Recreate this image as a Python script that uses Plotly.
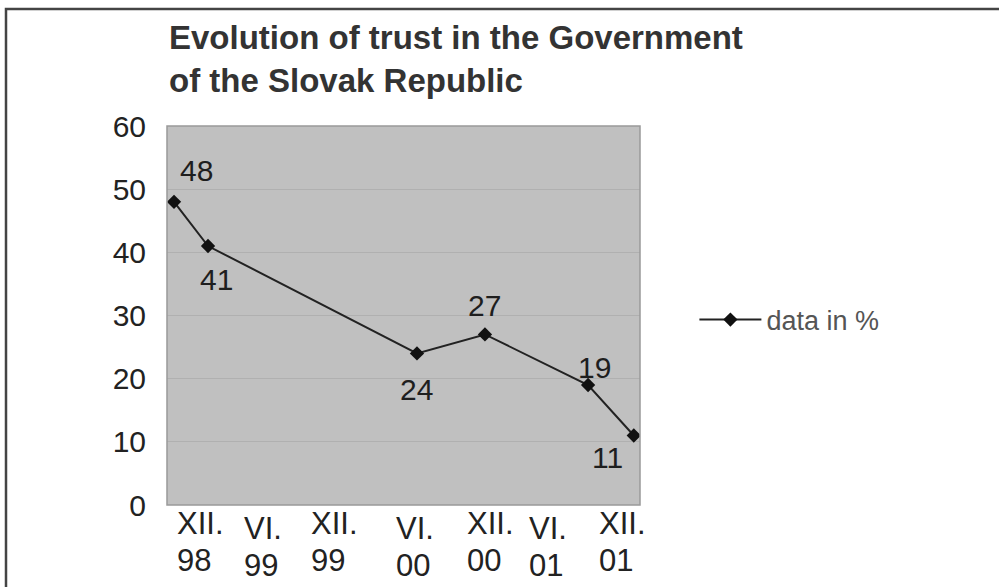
import plotly.graph_objects as go

# ---- data ----
# x positions in months relative to XII.98
point_x = [-2.13, 0.77, 18.6, 24.4, 33.2, 37.1]
trust_values = [48, 41, 24, 27, 19, 11]
series_name = "data in %"

# left edge of each x label, same month units as point_x
tick_positions = [-2.05, 3.66, 9.38, 16.63, 22.69, 27.98, 33.96]
tick_month = ["XII.", "VI.", "XII.", "VI.", "XII.", "VI.", "XII."]
tick_year = ["98", "99", "99", "00", "00", "01", "01"]
y_ticks = [0, 10, 20, 30, 40, 50, 60]

title_text = "Evolution of trust in the Government<br>of the Slovak Republic"

# label offsets (px) for data labels
label_dx = [22, 8, 0, 0, 6, -26]
label_dy = [31, -33, -36, 29, 17, -22]
# vertical offsets (px) of the x tick labels (the VI. labels sit a bit lower)
tick_label_dy = [0, -5, 0, -5, 0, -5, 0]

FONT = "Liberation Sans, Arial, Helvetica, sans-serif"

fig = go.Figure()
fig.add_trace(go.Scatter(
    x=point_x, y=trust_values, mode="lines+markers", name=series_name,
    line=dict(color="#222222", width=2),
    marker=dict(symbol="diamond", size=11, color="#111111"),
))

annotations = []
for x, y, dx, dy in zip(point_x, trust_values, label_dx, label_dy):
    annotations.append(dict(
        x=x, y=y, xref="x", yref="y", text=str(y), showarrow=False,
        xshift=dx, yshift=dy, font=dict(family=FONT, size=30, color="#1e1e1e"),
    ))

# x-axis category labels (two left-aligned lines)
for tv, tm, ty, dy in zip(tick_positions, tick_month, tick_year, tick_label_dy):
    for line_text, base in ((tm, 1), (ty, -36)):
        annotations.append(dict(
            x=tv, y=0, xref="x", yref="paper", text=line_text, showarrow=False,
            xanchor="left", yanchor="top", yshift=base + dy,
            font=dict(family=FONT, size=31, color="#222222"),
        ))

# title as a paper-anchored annotation
annotations.append(dict(
    x=0, y=(505 - 17) / 379, xref="paper", yref="paper",
    xanchor="left", yanchor="top", align="left", showarrow=False,
    text="<b>" + title_text + "</b>",
    font=dict(family=FONT, size=33, color="#333333"),
))

fig.update_layout(
    width=999, height=587,
    margin=dict(l=167, r=359, t=126, b=82, autoexpand=False),
    paper_bgcolor="white",
    plot_bgcolor="#c0c0c0",
    font=dict(family=FONT, color="#222222"),
    showlegend=True,
    legend=dict(
        x=1.115, xanchor="left", y=0.488, yanchor="middle",
        font=dict(family=FONT, size=27, color="#555555"),
        bgcolor="rgba(0,0,0,0)", itemwidth=62,
    ),
    xaxis=dict(
        range=[-2.73, 37.63], showticklabels=False,
        showgrid=False, zeroline=False, showline=False, automargin=False,
        ticks="",
    ),
    yaxis=dict(
        range=[0, 60], tickvals=y_ticks, automargin=False,
        showgrid=True, gridcolor="#b0b0b0", gridwidth=1, zeroline=False,
        showline=False, ticks="outside", ticklen=14, tickcolor="rgba(0,0,0,0)",
        tickfont=dict(family=FONT, size=30, color="#222222"),
    ),
    annotations=annotations,
    shapes=[
        # plot area border
        dict(type="rect", xref="paper", yref="paper", x0=0, y0=0, x1=1, y1=1,
             line=dict(color="#999999", width=1.5), layer="above"),
        # outer frame (left and top edges visible)
        dict(type="rect", xref="paper", yref="paper",
             x0=(6 - 167) / 473, x1=(1020 - 167) / 473,
             y0=-0.5, y1=(505 - 9) / 379,
             line=dict(color="#444444", width=2.5)),
    ],
)

fig.write_html("out.html")
